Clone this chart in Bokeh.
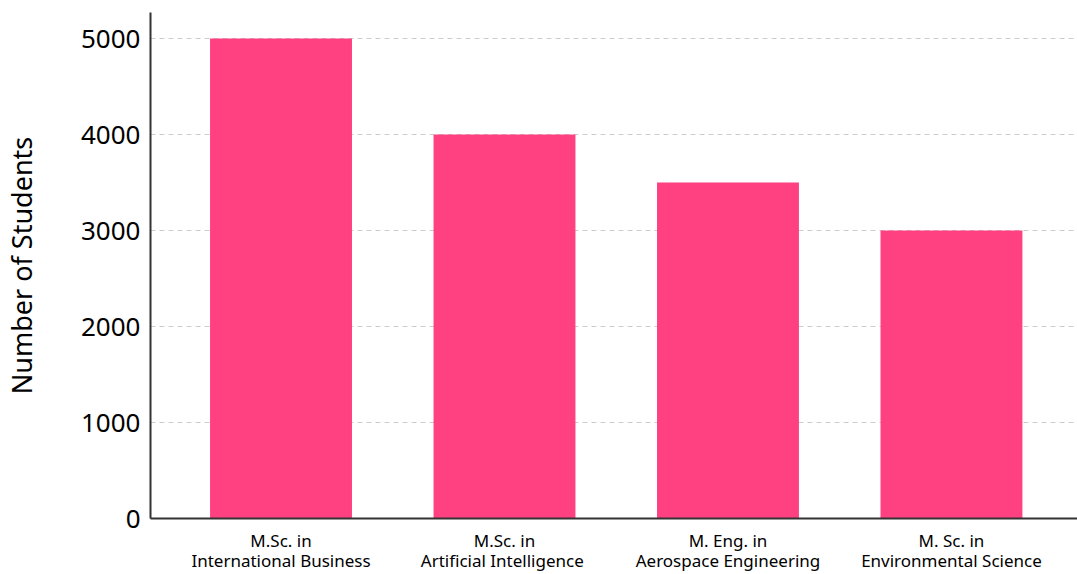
from bokeh.plotting import figure
from bokeh.models import Range1d, FixedTicker, ColumnDataSource
from bokeh.embed import file_html
from bokeh.resources import INLINE

programs = ["M.Sc. in\nInternational Business", "M.Sc. in\nArtificial  Intelligence",
            "M. Eng. in\nAerospace Engineering", "M. Sc. in\nEnvironmental Science"]
students = [5000, 4000, 3500, 3000]
y_ticks = [0, 1000, 2000, 3000, 4000, 5000]

FONT = "Noto Sans"
pos = list(range(len(programs)))
src = ColumnDataSource(dict(x=pos, top=students))

p = figure(width=1077, height=574, output_backend="svg", toolbar_location=None,
           x_range=Range1d(-0.584, 3.564), y_range=Range1d(0, 5271),
           min_border_left=150, min_border_right=0, min_border_top=12, min_border_bottom=56)
p.outline_line_color = None
p.background_fill_color = "white"
p.border_fill_color = "white"

p.vbar(x="x", top="top", width=0.635, source=src, fill_color="#FF4081", line_color=None)

p.xaxis.ticker = FixedTicker(ticks=pos)
p.xaxis.major_label_overrides = {i: s for i, s in enumerate(programs)}
p.yaxis.ticker = FixedTicker(ticks=y_ticks)

for ax in (p.xaxis[0], p.yaxis[0]):
    ax.axis_line_color = "#333333"
    ax.axis_line_width = 2
    ax.major_tick_line_color = None
    ax.minor_tick_line_color = None
    ax.major_tick_in = 0
    ax.major_tick_out = 0
    ax.major_label_text_font = FONT
    ax.major_label_text_color = "black"
    ax.axis_label_text_font = FONT
    ax.axis_label_text_font_style = "normal"
    ax.axis_label_text_color = "black"

p.xaxis.major_label_text_font_size = "17px"
p.xaxis.major_label_text_line_height = 0.88
p.xaxis.major_label_standoff = 10
p.yaxis.major_label_text_font_size = "26px"
p.yaxis.major_label_standoff = 10
p.yaxis.axis_label = "Number of Students"
p.yaxis.axis_label_text_font_size = "27px"
p.yaxis.axis_label_standoff = 38

p.xgrid.grid_line_color = None
p.ygrid.grid_line_color = "#cccccc"
p.ygrid.grid_line_dash = "5 4"
p.ygrid.grid_line_width = 1

open("out.html", "w").write(file_html(p, INLINE))
